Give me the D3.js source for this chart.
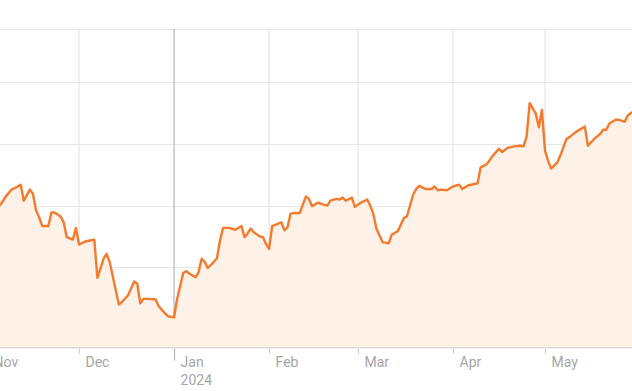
<!DOCTYPE html>
<html>
<head>
<meta charset="utf-8">
<script src="https://cdn.jsdelivr.net/npm/d3@7"></script>
<style>
  html, body { margin: 0; padding: 0; background: #fff; }
  svg { display: block; }
</style>
</head>
<body>
<svg id="chart" width="632" height="391"></svg>
<script>
// ---- data ----
const dates = [
  "2023-11-03","2023-11-05","2023-11-06","2023-11-07","2023-11-09","2023-11-11","2023-11-12","2023-11-13",
  "2023-11-15","2023-11-16","2023-11-17","2023-11-18","2023-11-19","2023-11-21","2023-11-22","2023-11-23",
  "2023-11-25","2023-11-26","2023-11-27","2023-11-29","2023-11-30","2023-12-01","2023-12-03","2023-12-05",
  "2023-12-06","2023-12-07","2023-12-08","2023-12-09","2023-12-10","2023-12-11","2023-12-14","2023-12-15",
  "2023-12-17","2023-12-19","2023-12-20","2023-12-21","2023-12-22","2023-12-24","2023-12-26","2023-12-27",
  "2023-12-29","2023-12-30","2024-01-01","2024-01-02","2024-01-04","2024-01-05","2024-01-06","2024-01-08",
  "2024-01-09","2024-01-10","2024-01-11","2024-01-12","2024-01-14","2024-01-15","2024-01-16","2024-01-17",
  "2024-01-19","2024-01-21","2024-01-23","2024-01-24","2024-01-25","2024-01-26","2024-01-27","2024-01-29",
  "2024-01-30","2024-01-31","2024-02-01","2024-02-02","2024-02-05","2024-02-06","2024-02-07","2024-02-08",
  "2024-02-09","2024-02-11","2024-02-13","2024-02-14","2024-02-15","2024-02-17","2024-02-18","2024-02-20",
  "2024-02-21","2024-02-23","2024-02-24","2024-02-25","2024-02-26","2024-02-28","2024-02-29","2024-03-02",
  "2024-03-04","2024-03-05","2024-03-06","2024-03-07","2024-03-09","2024-03-11","2024-03-12","2024-03-14",
  "2024-03-16","2024-03-17","2024-03-19","2024-03-20","2024-03-21","2024-03-23","2024-03-25","2024-03-26",
  "2024-03-27","2024-03-28","2024-03-30","2024-04-01","2024-04-03","2024-04-04","2024-04-06","2024-04-08",
  "2024-04-09","2024-04-10","2024-04-12","2024-04-14","2024-04-16","2024-04-17","2024-04-19","2024-04-21",
  "2024-04-23","2024-04-24","2024-04-25","2024-04-26","2024-04-28","2024-04-29","2024-04-30","2024-05-01",
  "2024-05-02","2024-05-03","2024-05-05","2024-05-06","2024-05-08","2024-05-09","2024-05-11","2024-05-14",
  "2024-05-15","2024-05-17","2024-05-19","2024-05-20","2024-05-21","2024-05-22","2024-05-24","2024-05-25",
  "2024-05-27","2024-05-28","2024-05-29","2024-05-31"
];
const prices = [
  49.6, 50.0, 50.6, 51.4, 52.6, 53.1, 53.4, 50.8,
  52.6, 51.9, 49.2, 48.1, 46.7, 46.7, 48.9, 48.9,
  48.25, 47.3, 44.9, 44.5, 46.4, 43.7, 44.2, 44.4,
  44.5, 38.3, 39.8, 41.4, 42.2, 40.9, 34.0, 34.4,
  35.5, 37.7, 37.4, 34.2, 34.9, 34.9, 34.8, 33.7,
  32.6, 32.1, 31.9, 34.9, 39.1, 39.4, 39.0, 38.4,
  39.2, 41.4, 40.9, 39.9, 40.9, 41.5, 44.4, 46.4,
  46.4, 46.1, 46.7, 44.9, 45.5, 46.3, 45.7, 45.0,
  44.9, 43.8, 43.0, 46.7, 47.3, 46.0, 46.5, 48.7,
  48.8, 48.8, 51.5, 51.1, 49.9, 50.5, 50.3, 50.0,
  50.8, 51.1, 51.0, 51.3, 50.8, 51.3, 49.8, 50.5,
  51.0, 50.0, 48.7, 46.3, 44.1, 43.9, 45.3, 45.9,
  48.0, 48.3, 51.8, 52.7, 53.2, 52.7, 52.7, 53.1,
  52.5, 52.6, 52.5, 53.1, 53.4, 52.7, 53.3, 53.5,
  53.6, 56.2, 56.7, 58.1, 59.2, 58.7, 59.4, 59.6,
  59.7, 59.6, 61.2, 66.6, 64.9, 62.7, 65.5, 58.9,
  57.3, 56.0, 57.0, 58.1, 60.8, 61.1, 61.9, 62.8,
  59.7, 60.8, 61.6, 62.3, 62.3, 63.3, 63.9, 63.9,
  63.6, 64.6, 65.0, 65.5
];
const yTickValues = [30, 40, 50, 60, 70];
const monthNames = ["Jan","Feb","Mar","Apr","May","Jun","Jul","Aug","Sep","Oct","Nov","Dec"];

// ---- chart ----
const parse = d3.utcParse("%Y-%m-%d");
const data = dates.map((d, i) => ({ date: parse(d), value: prices[i] }));

const svg = d3.select("#chart");
const plotTop = 29, plotBottom = 347.7;

const x = d3.scaleUtc()
  .domain([parse("2023-12-01"), parse("2024-05-01")])
  .range([79, 545]);
const y = d3.scaleLinear()
  .domain([27, 78.6])
  .range([plotBottom, plotTop]);

const monthTicks = d3.utcMonth.range(parse("2023-11-01"), parse("2024-06-01"));

// horizontal grid
const grid = svg.append("g");
grid.selectAll("line.h")
  .data(yTickValues.concat([y.domain()[1]]))
  .join("line")
  .attr("x1", -10).attr("x2", 640)
  .attr("y1", d => Math.round(y(d)) + 0.5)
  .attr("y2", d => Math.round(y(d)) + 0.5)
  .attr("stroke", "#e5e5e5").attr("stroke-width", 1.2);

// vertical grid
grid.selectAll("line.v")
  .data(monthTicks)
  .join("line")
  .attr("x1", d => x(d)).attr("x2", d => x(d))
  .attr("y1", plotTop).attr("y2", plotBottom)
  .attr("stroke", d => d.getUTCMonth() === 0 ? "#bdbdbd" : "#e5e5e5")
  .attr("stroke-width", d => d.getUTCMonth() === 0 ? 1.4 : 1.2);

// area
const area = d3.area()
  .x(d => x(d.date))
  .y0(plotBottom)
  .y1(d => y(d.value));
svg.append("path")
  .datum(data)
  .attr("d", area)
  .attr("fill", "#fdf1e8");

// line
const line = d3.line()
  .x(d => x(d.date))
  .y(d => y(d.value));
svg.append("path")
  .datum(data)
  .attr("d", line)
  .attr("fill", "none")
  .attr("stroke", "#f47a2c")
  .attr("stroke-width", 2.4)
  .attr("stroke-linejoin", "round");

// x axis
const axis = d3.axisBottom(x)
  .tickValues(monthTicks)
  .tickSize(0)
  .tickFormat(() => "");
const ax = svg.append("g")
  .attr("transform", `translate(0,${plotBottom})`)
  .call(axis);
ax.select(".domain").remove();
ax.append("line")
  .attr("x1", -10).attr("x2", 640)
  .attr("y1", 0).attr("y2", 0)
  .attr("stroke", "#d9d9d9").attr("stroke-width", 1.6);
ax.selectAll(".tick").each(function(d) {
  const g = d3.select(this);
  const isYear = d.getUTCMonth() === 0;
  g.append("line")
    .attr("y1", 1).attr("y2", isYear ? 13 : 6)
    .attr("stroke", isYear ? "#b5b5b5" : "#d0d0d0")
    .attr("stroke-width", 1.2);
  const t = g.append("text")
    .attr("x", 6).attr("y", 19)
    .attr("text-anchor", "start")
    .attr("fill", "#a6a6a6")
    .style("font-family", "Roboto, 'Open Sans', sans-serif")
    .style("font-size", "14px");
  t.append("tspan").attr("x", 6).text(monthNames[d.getUTCMonth()]);
  if (isYear) {
    t.append("tspan").attr("x", 6).attr("dy", 18.5).text(d.getUTCFullYear());
  }
});
</script>
</body>
</html>
